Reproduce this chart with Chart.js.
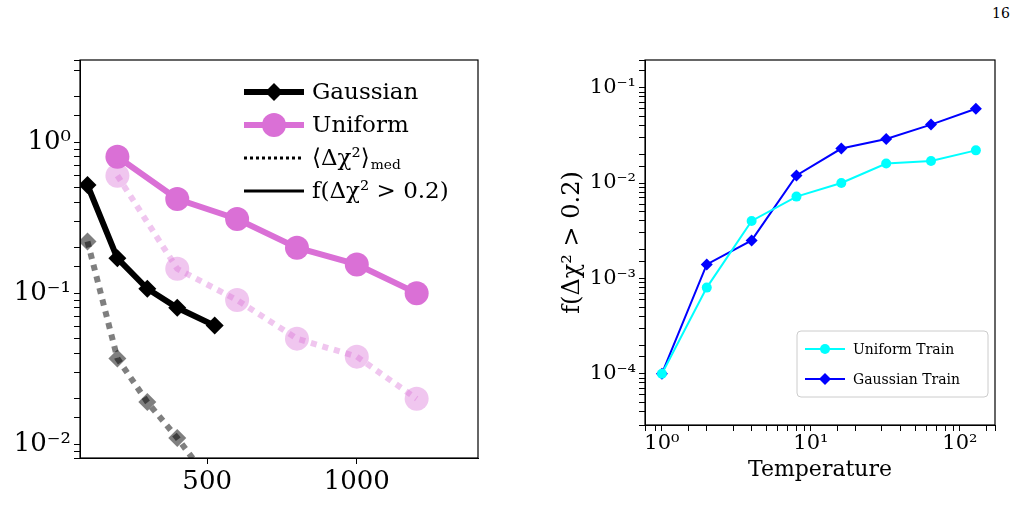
<!DOCTYPE html>
<html><head><meta charset="utf-8">
<script src="https://cdn.jsdelivr.net/npm/chart.js@4"></script>
<style>body{margin:0;background:#fff;width:1018px;height:505px;position:relative;overflow:hidden}
.c{position:absolute;top:0}
#pg{position:absolute;left:992px;top:5px;font:14px 'DejaVu Serif',serif}</style></head><body>
<div id="pg">16</div>
<div class="c" style="left:0;width:500px;height:505px"><canvas id="a"></canvas></div>
<div class="c" style="left:520px;width:498px;height:505px"><canvas id="b"></canvas></div>
<script>
const gaussX=[100,200,300,400,525], gaussF=[0.52,0.17,0.107,0.08,0.061];
const gaussMedX=[100,200,300,400,500], gaussMed=[0.22,0.037,0.019,0.011,0.006];
const unifX=[200,400,600,800,1000,1200], unifF=[0.8,0.42,0.31,0.2,0.155,0.1];
const unifMed=[0.6,0.145,0.09,0.05,0.038,0.02];
const temps=[1,2,4,8,16,32,64,128];
const unifTrain=[1e-4,8e-4,0.004,0.0072,0.01,0.016,0.017,0.022];
const gaussTrain=[1e-4,0.0014,0.0025,0.012,0.023,0.029,0.041,0.06];
const sup={'-':'⁻','0':'⁰','1':'¹','2':'²','3':'³','4':'⁴'};
const pow=v=>{const e=Math.round(Math.log10(v));if(Math.abs(Math.log10(v)-e)>1e-6)return '';return '10'+String(e).split('').map(c=>sup[c]).join('');};
const F='DejaVu Serif';
const pts=(xs,ys)=>xs.map((x,i)=>({x,y:ys[i]}));
const box={id:'box',afterDraw(c){const a=c.chartArea,x=c.ctx;x.save();x.strokeStyle='#000';x.lineWidth=1.2;x.strokeRect(a.left,a.top,a.right-a.left,a.bottom-a.top);
 const L=c.options.plugins.myleg;if(L){x.textBaseline='middle';
 if(L.frame){x.fillStyle='#fff';x.strokeStyle='#ccc';x.lineWidth=1;x.beginPath();x.roundRect(L.x,L.y,L.w,L.h,4);x.fill();x.stroke();}
 L.items.forEach((it,i)=>{const y=L.y+L.pad+i*L.dy;x.strokeStyle=it.c;x.lineWidth=it.lw;x.setLineDash(it.dash||[]);x.beginPath();x.moveTo(L.x+L.lx,y);x.lineTo(L.x+L.lx+L.len,y);x.stroke();x.setLineDash([]);
 const mx=L.x+L.lx+L.len/2;x.fillStyle=it.c;if(it.m==='d'){x.beginPath();x.moveTo(mx,y-it.r);x.lineTo(mx+it.r,y);x.lineTo(mx,y+it.r);x.lineTo(mx-it.r,y);x.fill();}else if(it.m==='o'){x.beginPath();x.arc(mx,y,it.r,0,7);x.fill();}
 x.fillStyle='#000';x.font=L.font+'px '+F;const tx=L.x+L.lx+L.len+8;x.fillText(it.t,tx,y+1);
 if(it.sub){const w=x.measureText(it.t).width;x.font=(L.font*0.6)+'px '+F;x.fillText(it.sub,tx+w+1,y+7);}});}
 x.restore();}};
const tk=(sz)=>({font:{family:F,size:sz},color:'#000'});
new Chart(document.getElementById('a'),{type:'line',plugins:[box],
data:{datasets:[
{data:pts(gaussMedX,gaussMed),borderColor:'rgba(0,0,0,0.5)',backgroundColor:'rgba(0,0,0,0.5)',borderWidth:6,borderDash:[6,6],pointStyle:'rectRot',pointRadius:9,pointBorderWidth:0},
{data:pts(unifX,unifMed),borderColor:'rgba(218,112,214,0.4)',backgroundColor:'rgba(218,112,214,0.4)',borderWidth:6,borderDash:[6,6],pointRadius:12,pointBorderWidth:0},
{data:pts(unifX,unifF),borderColor:'#da70d6',backgroundColor:'#da70d6',borderWidth:6,pointRadius:12,pointBorderWidth:0},
{data:pts(gaussX,gaussF),borderColor:'#000',backgroundColor:'#000',borderWidth:6,pointStyle:'rectRot',pointRadius:9,pointBorderWidth:0}]},
options:{animation:false,responsive:true,maintainAspectRatio:false,layout:{padding:{top:60,right:22,left:0,bottom:0}},
plugins:{legend:{display:false},tooltip:{enabled:false},myleg:{x:240,y:68,font:23,pad:24,dy:33,lx:4,len:60,items:[
{t:'Gaussian',c:'#000',lw:6,m:'d',r:9},{t:'Uniform',c:'#da70d6',lw:6,m:'o',r:12},{t:'⟨Δχ²⟩',sub:'med',c:'#000',lw:3,dash:[3,3]},{t:'f(Δχ² > 0.2)',c:'#000',lw:3}]}},
scales:{x:{type:'linear',min:75,max:1405,afterBuildTicks:s=>{s.ticks=[{value:500},{value:1000}]},afterFit:s=>{s.height=47},grid:{drawOnChartArea:false,tickLength:6,color:'#000'},border:{color:'#000'},ticks:{...tk(26),maxRotation:0,callback:v=>String(v)}},
y:{type:'logarithmic',min:0.0081,max:3.5,afterFit:s=>{s.width=80},grid:{drawOnChartArea:false,tickLength:6,color:'#000'},border:{color:'#000'},ticks:{...tk(26),autoSkip:false,callback:v=>pow(v)}}}}});
new Chart(document.getElementById('b'),{type:'line',plugins:[box],
data:{datasets:[
{data:pts(temps,unifTrain),borderColor:'#00ffff',backgroundColor:'#00ffff',borderWidth:2,pointRadius:5,pointBorderWidth:0},
{data:pts(temps,gaussTrain),borderColor:'#0000ff',backgroundColor:'#0000ff',borderWidth:2,pointStyle:'rectRot',pointRadius:6,pointBorderWidth:0}]},
options:{animation:false,responsive:true,maintainAspectRatio:false,layout:{padding:{top:60,right:23,left:34,bottom:22}},
plugins:{legend:{display:false},tooltip:{enabled:false},myleg:{x:277,y:331,w:191,h:66,frame:true,font:14,pad:18,dy:30,lx:8,len:40,items:[
{t:'Uniform Train',c:'#00ffff',lw:2,m:'o',r:5},{t:'Gaussian Train',c:'#0000ff',lw:2,m:'d',r:6}]}},
scales:{x:{type:'logarithmic',min:0.77,max:172,afterFit:s=>{s.height=58},grid:{drawOnChartArea:false,tickLength:6,color:'#000'},border:{color:'#000'},ticks:{...tk(21),padding:0,autoSkip:false,maxRotation:0,callback:v=>pow(v)},title:{display:true,text:'Temperature',font:{family:F,size:22},color:'#000',padding:{top:0,bottom:0}}},
y:{type:'logarithmic',min:2.9e-5,max:0.195,afterFit:s=>{s.width=91},grid:{drawOnChartArea:false,tickLength:6,color:'#000'},border:{color:'#000'},ticks:{...tk(21),autoSkip:false,callback:v=>pow(v)},title:{display:true,text:'f(Δχ² > 0.2)',font:{family:F,size:24},color:'#000'}}}}});
</script></body></html>
